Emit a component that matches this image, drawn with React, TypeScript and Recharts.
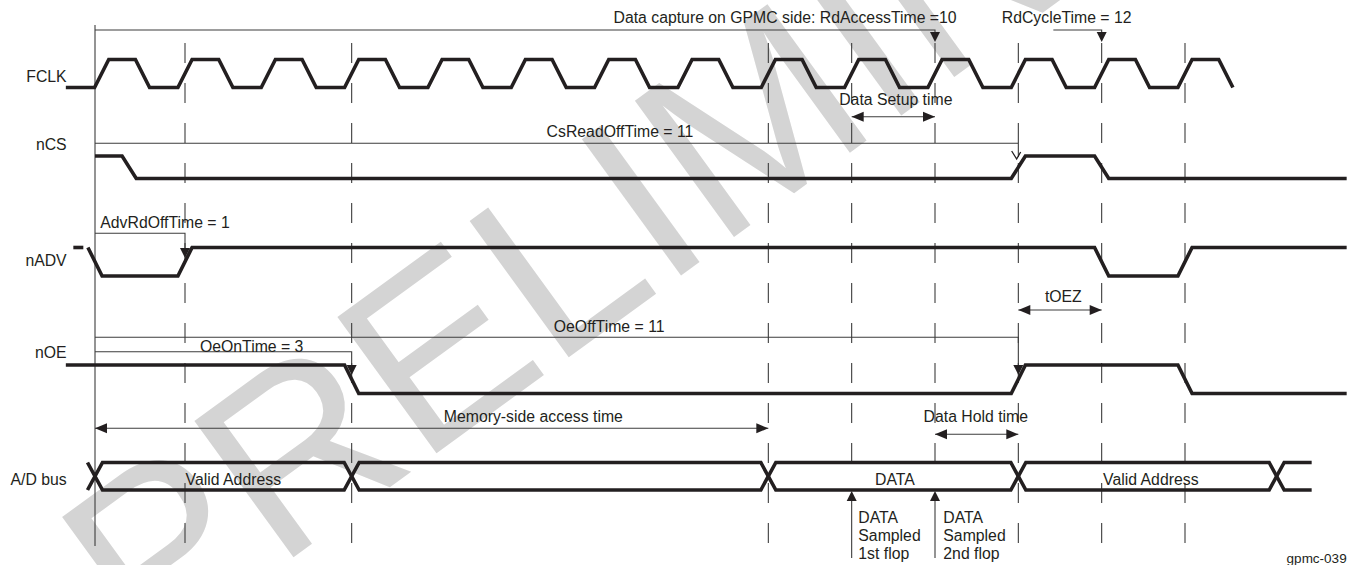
import React from "react";
import { ComposedChart, Line, Scatter, XAxis, YAxis, ReferenceLine } from "recharts";

const W = 1353;
const H = 565;
const INK = "#231f20";
const THIN = "#3c3c3c";
const FONT = "'Liberation Sans', Arial, Helvetica, sans-serif";

// Time runs in FCLK cycles; 0 = first rising edge of the access.
const T_DOMAIN: [number, number] = [-1.22, 15.016];

// ---- waveforms: edge time (cycles) and level after the edge ----
const fclkRise = [0, 1, 2, 3, 4, 5, 6, 7, 8, 9, 10, 11, 12, 13];
const fclkFall = [0.49, 1.49, 2.49, 3.49, 4.49, 5.49, 6.49, 7.49, 8.49, 9.49, 10.49, 11.49, 12.49, 13.49];
const fclkSpan = [-0.43, 13.575];

const ncsEdges = [
  { t: 0.33, v: 0 },
  { t: 11, v: 1 },
  { t: 12, v: 0 },
];
const ncsSpan = [-0.08, 14.94];

const nadvStub = [-0.34, -0.22];
const nadvEdges = [
  { t: -0.08, v: 0 },
  { t: 1, v: 1 },
  { t: 12, v: 0 },
  { t: 13, v: 1 },
];
const nadvSpan = [-0.165, 14.94];

const noeEdges = [
  { t: 3, v: 0 },
  { t: 11, v: 1 },
  { t: 13, v: 0 },
];
const noeSpan = [-0.43, 14.94];

const busCrossings = [-0.08, 3, 8, 11, 14.1];
const busSpan = [-0.17, 14.52];
const busLabels = [
  { t: 1.58, text: "Valid Address" },
  { t: 9.52, text: "DATA" },
  { t: 12.59, text: "Valid Address" },
];

// ---- timing parameters (cycles) ----
const rdAccessTime = [-0.08, 10];
const rdCycleTime = [11.42, 12];
const csReadOffTime = [-0.08, 11];
const advRdOffTime = [-0.08, 1];
const oeOffTime = [-0.08, 11];
const oeOnTime = [-0.08, 3];
const dataSetup = [9, 10];
const tOEZ = [11, 12];
const memAccess = [-0.08, 8];
const dataHold = [10, 11];
const sampleEdges = [9, 10];

const dashedEdges = [1, 3, 8, 9, 10, 11, 12, 13];
const cycleStart = -0.08;

const signalNames = ["FCLK", "nCS", "nADV", "nOE", "A/D bus"];

const annotations = [
  { id: "rdAccess", t: 10.26, text: "Data capture on GPMC side: RdAccessTime =10", anchor: "end" },
  { id: "rdCycle", t: 11.58, text: "RdCycleTime = 12", anchor: "middle" },
  { id: "setup", t: 9.53, text: "Data Setup time", anchor: "middle" },
  { id: "csOff", t: 6.22, text: "CsReadOffTime = 11", anchor: "middle" },
  { id: "advOff", t: 0.76, text: "AdvRdOffTime = 1", anchor: "middle" },
  { id: "toez", t: 11.54, text: "tOEZ", anchor: "middle" },
  { id: "oeOff", t: 6.09, text: "OeOffTime = 11", anchor: "middle" },
  { id: "oeOn", t: 1.8, text: "OeOnTime = 3", anchor: "middle" },
  { id: "mem", t: 5.18, text: "Memory-side access time", anchor: "middle" },
  { id: "hold", t: 10.49, text: "Data Hold time", anchor: "middle" },
];
const sampleNotes = [
  ["DATA", "Sampled", "1st flop"],
  ["DATA", "Sampled", "2nd flop"],
];

// ---- layout (pixels, y grows downward) ----
const LANE = {
  fclk: { hi: 59.5, lo: 87.5 },
  ncs: { hi: 156, lo: 178.5 },
  nadv: { hi: 247.5, lo: 276 },
  noe: { hi: 365, lo: 393.5 },
  bus: { hi: 462.5, lo: 490 },
};
const NAME_Y = [81.7, 150, 266, 358, 484.5];
const NAME_T = -0.42;
const NOTE_Y: Record<string, number> = {
  rdAccess: 23.3, rdCycle: 23.3, setup: 105, csOff: 136.7, advOff: 228.3,
  toez: 302, oeOff: 331.5, oeOn: 351.5, mem: 421.5, hold: 421.5,
};
const FONT_SIZE = 15.8;
const SLEW = 0.17;
const XING = 0.18;

type Pt = { t: number; y: number };
type Edge = { t: number; v: number };

const wave = (lane: { hi: number; lo: number }, span: number[], v0: number, edges: Edge[], slew: number): Pt[] => {
  const lvl = (v: number) => (v ? lane.hi : lane.lo);
  const pts: Pt[] = [{ t: span[0], y: lvl(v0) }];
  let v = v0;
  edges.forEach((e) => {
    pts.push({ t: e.t - slew / 2, y: lvl(v) });
    pts.push({ t: e.t + slew / 2, y: lvl(e.v) });
    v = e.v;
  });
  pts.push({ t: span[1], y: lvl(v) });
  return pts;
};

const fclkEdges = [...fclkRise.map((t) => ({ t, v: 1 })), ...fclkFall.map((t) => ({ t, v: 0 }))].sort((a, b) => a.t - b.t);
const busEdgesA = busCrossings.map((t, i) => ({ t, v: i % 2 === 0 ? 1 : 0 }));
const busEdgesB = busCrossings.map((t, i) => ({ t, v: i % 2 === 0 ? 0 : 1 }));

const signals: Pt[][] = [
  wave(LANE.fclk, fclkSpan, 0, fclkEdges, SLEW),
  wave(LANE.ncs, ncsSpan, 1, ncsEdges, SLEW),
  nadvStub.map((t) => ({ t, y: LANE.nadv.hi })),
  wave(LANE.nadv, nadvSpan, 1, nadvEdges, SLEW),
  wave(LANE.noe, noeSpan, 1, noeEdges, SLEW),
  wave(LANE.bus, busSpan, 0, busEdgesA, XING),
  wave(LANE.bus, busSpan, 1, busEdgesB, XING),
];

// bracket = horizontal rule then a drop to the arrow
const bracket = (range: number[], yLine: number, yEnd: number): Pt[] => [
  { t: range[0], y: yLine },
  { t: range[1], y: yLine },
  { t: range[1], y: yEnd },
];
const span = (range: number[], y: number): Pt[] => [
  { t: range[0], y },
  { t: range[1], y },
];

const thinLines: Pt[][] = [
  bracket(rdAccessTime, 30, 36),
  bracket(rdCycleTime, 30, 36),
  bracket(csReadOffTime, 143.3, 157),
  bracket(advRdOffTime, 233.3, 252),
  bracket(oeOffTime, 337.3, 369),
  bracket(oeOnTime, 351.7, 369),
  span(dataSetup, 116.7),
  span(tOEZ, 310),
  span(memAccess, 428.3),
  span(dataHold, 434.3),
  ...sampleEdges.map((t) => [
    { t, y: 494 },
    { t, y: 558 },
  ]),
];

const arrows = [
  { t: rdAccessTime[1], y: 42, dir: "down" },
  { t: rdCycleTime[1], y: 42, dir: "down" },
  { t: csReadOffTime[1] - 0.02, y: 159, dir: "vee" },
  { t: advRdOffTime[1], y: 258, dir: "down" },
  { t: oeOffTime[1], y: 375, dir: "down" },
  { t: oeOnTime[1], y: 375, dir: "down" },
  { t: dataSetup[0], y: 116.7, dir: "left" },
  { t: dataSetup[1], y: 116.7, dir: "right" },
  { t: tOEZ[0], y: 310, dir: "left" },
  { t: tOEZ[1], y: 310, dir: "right" },
  { t: memAccess[0], y: 428.3, dir: "left" },
  { t: memAccess[1], y: 428.3, dir: "right" },
  { t: dataHold[0], y: 434.3, dir: "left" },
  { t: dataHold[1], y: 434.3, dir: "right" },
  ...sampleEdges.map((t) => ({ t, y: 491, dir: "up" })),
];

const texts = [
  ...signalNames.map((text, i) => ({ t: NAME_T, y: NAME_Y[i], text, anchor: "end", size: FONT_SIZE })),
  ...annotations.map((a) => ({ t: a.t, y: NOTE_Y[a.id], text: a.text, anchor: a.anchor, size: FONT_SIZE })),
  ...busLabels.map((b) => ({ t: b.t, y: 484.5, text: b.text, anchor: "middle", size: FONT_SIZE })),
  ...sampleNotes.flatMap((lines, i) =>
    lines.map((text, j) => ({
      t: sampleEdges[i] + (i === 0 ? 0.08 : 0.1),
      y: 522.5 + j * 18.3,
      text,
      anchor: "start",
      size: FONT_SIZE,
    })),
  ),
  { t: 14.94, y: 563, text: "gpmc-039", anchor: "end", size: 13.5 },
];

const ArrowHead = (props: any) => {
  const { cx, cy, payload } = props;
  const L = 10;
  const w = 5;
  if (payload.dir === "vee") {
    return (
      <path
        d={`M${cx - 5},${cy - 8} L${cx},${cy} L${cx + 4},${cy - 7}`}
        fill="none"
        stroke={INK}
        strokeWidth={1.3}
      />
    );
  }
  const d =
    payload.dir === "down"
      ? `M${cx},${cy} L${cx - w},${cy - L} L${cx + w},${cy - L} Z`
      : payload.dir === "up"
        ? `M${cx},${cy} L${cx - w},${cy + L} L${cx + w},${cy + L} Z`
        : payload.dir === "left"
          ? `M${cx},${cy} L${cx + 12},${cy - w} L${cx + 12},${cy + w} Z`
          : `M${cx},${cy} L${cx - 12},${cy - w} L${cx - 12},${cy + w} Z`;
  return <path d={d} fill={INK} />;
};

const TextMark = (props: any) => {
  const { cx, cy, payload } = props;
  return (
    <text x={cx} y={cy} textAnchor={payload.anchor} fontSize={payload.size} fontFamily={FONT} fill={INK}>
      {payload.text}
    </text>
  );
};

export default function App() {
  return (
    <div style={{ position: "absolute", left: 0, top: 0, width: W, height: H, background: "#fff", overflow: "hidden" }}>
      {/* draft watermark, sits behind the diagram */}
      <svg width={W} height={H} style={{ position: "absolute", left: 0, top: 0 }}>
        <text
          x={145}
          y={665}
          transform="rotate(-36 145 665)"
          fontSize={245}
          fontFamily={FONT}
          fill="#d4d4d4"
        >
          PRELIMINARY
        </text>
      </svg>
      <div style={{ position: "absolute", left: 0, top: 0 }}>
        <ComposedChart width={W} height={H} margin={{ top: 0, right: 0, bottom: 0, left: 0 }}>
          <XAxis type="number" dataKey="t" domain={T_DOMAIN} allowDataOverflow hide />
          <YAxis type="number" dataKey="y" domain={[0, H]} reversed allowDataOverflow hide />
          <ReferenceLine
            segment={[{ x: cycleStart, y: 25 }, { x: cycleStart, y: 546 }]}
            stroke={THIN}
            strokeWidth={1.1}
          />
          {dashedEdges.map((t) => (
            <ReferenceLine
              key={`g${t}`}
              segment={[{ x: t, y: 43 }, { x: t, y: sampleEdges.includes(t) ? 483 : 545 }]}
              stroke={THIN}
              strokeWidth={1.1}
              strokeDasharray="20 20"
            />
          ))}
          {thinLines.map((d, i) => (
            <Line
              key={`b${i}`}
              data={d}
              dataKey="y"
              type="linear"
              stroke={THIN}
              strokeWidth={1.1}
              dot={false}
              activeDot={false}
              isAnimationActive={false}
            />
          ))}
          {signals.map((d, i) => (
            <Line
              key={`s${i}`}
              data={d}
              dataKey="y"
              type="linear"
              stroke={INK}
              strokeWidth={3.6}
              dot={false}
              activeDot={false}
              isAnimationActive={false}
            />
          ))}
          <Scatter data={arrows} shape={ArrowHead} isAnimationActive={false} />
          <Scatter data={texts} shape={TextMark} isAnimationActive={false} />
        </ComposedChart>
      </div>
    </div>
  );
}
